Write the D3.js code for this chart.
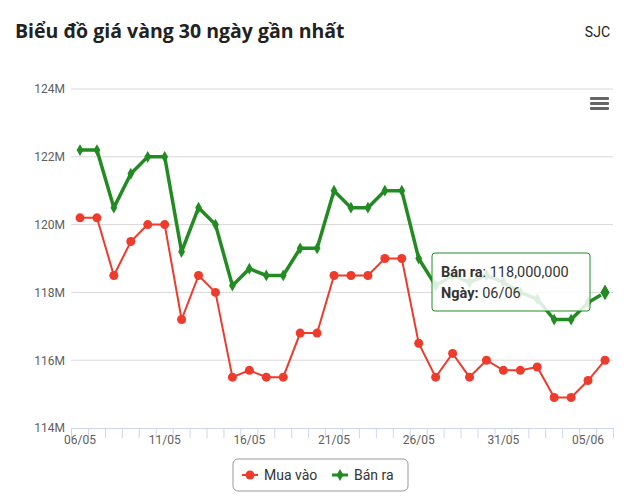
<!DOCTYPE html>
<html><head><meta charset="utf-8">
<script src="https://cdn.jsdelivr.net/npm/d3@7"></script>
<style>body{margin:0;background:#fff;font-family:Roboto,"Open Sans",sans-serif}</style>
</head><body><svg id="c" width="640" height="504"></svg>
<script>
const dates=["06/05","07/05","08/05","09/05","10/05","11/05","12/05","13/05","14/05","15/05","16/05","17/05","18/05","19/05","20/05","21/05","22/05","23/05","24/05","25/05","26/05","27/05","28/05","29/05","30/05","31/05","01/06","02/06","03/06","04/06","05/06","06/06"];
const muaVao=[120.2,120.2,118.5,119.5,120,120,117.2,118.5,118,115.5,115.7,115.5,115.5,116.8,116.8,118.5,118.5,118.5,119,119,116.5,115.5,116.2,115.5,116,115.7,115.7,115.8,114.9,114.9,115.4,116];
const banRa=[122.2,122.2,120.5,121.5,122,122,119.2,120.5,120,118.2,118.7,118.5,118.5,119.3,119.3,121,120.5,120.5,121,121,119,118.2,118.5,118.3,118.5,118.3,118,117.8,117.2,117.2,117.7,118];
const yTicks=[114,116,118,120,122,124];
const svg=d3.select("#c");
const x=d3.scaleLinear().domain([0,dates.length-1]).range([80,605]);
const y=d3.scaleLinear().domain([114,124]).range([428,89]);
const step=x(1)-x(0);
svg.append("text").attr("x",15).attr("y",38).attr("font-size",19.5).attr("font-weight","bold").attr("font-family","'Open Sans',sans-serif").attr("fill","#222").text("Biểu đồ giá vàng 30 ngày gần nhất");
svg.append("text").attr("x",610).attr("y",37).attr("text-anchor","end").attr("font-size",14).attr("fill","#222").text("SJC");
const yAx=svg.append("g").attr("transform","translate(71,0)").call(d3.axisLeft(y).tickValues(yTicks).tickSize(0).tickPadding(6).tickFormat(d=>d+"M"));
yAx.select(".domain").remove();
yAx.selectAll("text").attr("font-size",12).attr("fill","#606060").attr("font-family","Roboto,sans-serif");
svg.append("g").selectAll("line").data(yTicks.slice(1)).join("line").attr("x1",71).attr("x2",613).attr("y1",d=>y(d)).attr("y2",d=>y(d)).attr("stroke","#d8d8d8");
const xTickPos=d3.range(dates.length+1).map(i=>x(i)-step/2);
svg.append("line").attr("x1",71).attr("x2",613).attr("y1",428.5).attr("y2",428.5).attr("stroke","#ccd6eb");
svg.append("g").selectAll("line").data(xTickPos).join("line").attr("x1",d=>d).attr("x2",d=>d).attr("y1",428).attr("y2",438).attr("stroke","#ccd6eb");
svg.append("g").selectAll("text").data(dates.map((d,i)=>[d,i]).filter(d=>d[1]%5==0)).join("text").attr("x",d=>x(d[1])).attr("y",444).attr("text-anchor","middle").attr("font-size",12).attr("fill","#606060").text(d=>d[0]);
const line=d3.line().x((d,i)=>x(i)).y(d=>y(d));
svg.append("path").datum(muaVao).attr("d",line).attr("fill","none").attr("stroke","#ee3b2b").attr("stroke-width",2);
svg.append("path").datum(banRa).attr("d",line).attr("fill","none").attr("stroke","#228b22").attr("stroke-width",3.5);
svg.append("g").selectAll("circle").data(muaVao).join("circle").attr("cx",(d,i)=>x(i)).attr("cy",d=>y(d)).attr("r",4.5).attr("fill","#ee3b2b");
svg.append("g").selectAll("path").data(banRa).join("path").attr("d",d3.symbol(d3.symbolDiamond,40)).attr("transform",(d,i)=>`translate(${x(i)},${y(d)})`).attr("fill","#228b22");
const li=banRa.length-1;
svg.append("path").attr("d",d3.symbol(d3.symbolDiamond,90)).attr("transform",`translate(${x(li)},${y(banRa[li])})`).attr("fill","#228b22").attr("stroke","#fff");
[0,5,10].forEach(o=>svg.append("rect").attr("x",590).attr("y",97+o).attr("width",19).attr("height",3).attr("rx",1).attr("fill","#666"));
const tg=svg.append("g").attr("transform","translate(432,253)");
tg.append("rect").attr("width",158).attr("height",58).attr("rx",3).attr("fill","rgba(255,255,255,0.85)").attr("stroke","#228b22");
const t1=tg.append("text").attr("x",9).attr("y",24).attr("font-size",14.5).attr("fill","#333");
t1.append("tspan").attr("font-weight","bold").text("Bán ra");t1.append("tspan").text(": "+d3.format(",")(banRa[li]*1e6));
const t2=tg.append("text").attr("x",9).attr("y",45).attr("font-size",14.5).attr("fill","#333");
t2.append("tspan").attr("font-weight","bold").text("Ngày: ");t2.append("tspan").text(dates[li]);
const lg=svg.append("g").attr("transform","translate(233,459)");
lg.append("rect").attr("width",175).attr("height",32).attr("rx",5).attr("fill","#fff").attr("stroke","#999");
lg.append("line").attr("x1",9).attr("x2",25).attr("y1",16).attr("y2",16).attr("stroke","#ee3b2b").attr("stroke-width",2);
lg.append("circle").attr("cx",17).attr("cy",16).attr("r",4.5).attr("fill","#ee3b2b");
lg.append("text").attr("x",31).attr("y",21).attr("font-size",14).attr("fill","#333").text("Mua vào");
lg.append("line").attr("x1",99).attr("x2",115).attr("y1",16).attr("y2",16).attr("stroke","#228b22").attr("stroke-width",3);
lg.append("path").attr("d",d3.symbol(d3.symbolDiamond,40)).attr("transform","translate(107,16)").attr("fill","#228b22");
lg.append("text").attr("x",121).attr("y",21).attr("font-size",14).attr("fill","#333").text("Bán ra");
</script></body></html>
